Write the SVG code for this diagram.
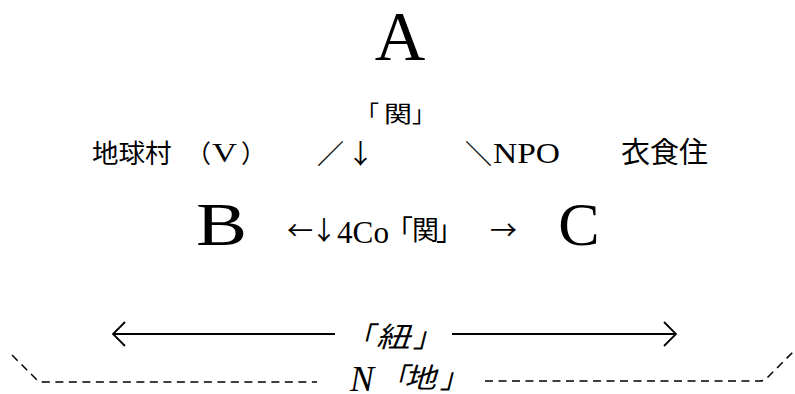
<svg xmlns="http://www.w3.org/2000/svg" width="795" height="394" viewBox="0 0 795 394">
<style>
.big{font-family:"Liberation Serif",serif;fill:#000}
.cjk{font-family:"Noto Sans CJK JP",sans-serif;fill:#000}
.ser{font-family:"Liberation Serif","Noto Sans CJK JP",serif;fill:#000}
.it{font-style:italic}
.ln{stroke:#000;stroke-width:1.8;fill:none}
.dash{stroke:#000;stroke-width:1.5;fill:none;stroke-dasharray:8 5.5}
</style>
<rect width="795" height="394" fill="#fff"/>
<g id="nodeA"><text class="big" x="400" y="60" font-size="70" text-anchor="middle">A</text></g>
<g id="labelKanTop"><text class="cjk" y="122" font-size="23"><tspan x="356">「</tspan><tspan x="384" textLength="28" lengthAdjust="spacingAndGlyphs">関</tspan><tspan x="412">」</tspan></text></g>
<g id="labelVillage"><text class="cjk" font-size="26.5" y="163"><tspan x="92">地球村</tspan></text><text class="cjk" x="186" y="163" font-size="25">（</text><text class="ser" x="212" y="162" font-size="27" textLength="25" lengthAdjust="spacingAndGlyphs">V</text><text class="cjk" x="241" y="163" font-size="25">）</text></g>
<g id="labelSlashDown"><text class="cjk" x="317" y="164" font-size="27">／</text><text class="cjk" x="347" y="164" font-size="27">↓</text></g>
<g id="labelNPO"><text class="cjk" x="465" y="164" font-size="27">＼</text><text class="ser" x="493" y="163" font-size="30" textLength="67" lengthAdjust="spacingAndGlyphs">NPO</text></g>
<g id="labelClothing"><text class="cjk" x="621" y="163" font-size="29">衣食住</text></g>
<g id="nodeB"><text class="big" x="196" y="245" font-size="62" textLength="51" lengthAdjust="spacingAndGlyphs">B</text></g>
<g id="labelMid"><text class="cjk" y="240" font-size="26"><tspan x="287">←</tspan><tspan x="311">↓</tspan></text><text class="ser" x="337" y="243" font-size="31" textLength="52" lengthAdjust="spacingAndGlyphs">4Co</text><text class="cjk" y="240" font-size="27"><tspan x="386">「</tspan><tspan x="412">関</tspan><tspan x="436">」</tspan></text><text class="cjk" x="490" y="240" font-size="27">→</text></g>
<g id="nodeC"><text class="big" x="579" y="245" font-size="62" text-anchor="middle">C</text></g>
<g id="labelTie"><text class="cjk it" y="347" font-size="28"><tspan x="346">「</tspan><tspan x="376" textLength="34" lengthAdjust="spacingAndGlyphs">紐</tspan><tspan x="413">」</tspan></text></g>
<g id="labelGround"><text class="ser it" x="350" y="391" font-size="36">N</text><text class="cjk it" y="388" font-size="28"><tspan x="380">「</tspan><tspan x="404" textLength="32" lengthAdjust="spacingAndGlyphs">地</tspan><tspan x="440">」</tspan></text></g>
<g id="connectors">
<path class="ln" d="M125,322 L113,334 L125,346 M113,334 L335,334"/>
<path class="ln" d="M452,334 L676,334 M664,322 L676,334 L664,346"/>
<path class="dash" d="M12,355 L37,380 Q40,382 44,382 L317,382"/>
<path class="dash" d="M485,381 L760,381 Q764,381 767,378 L793,352"/>
</g>
</svg>
